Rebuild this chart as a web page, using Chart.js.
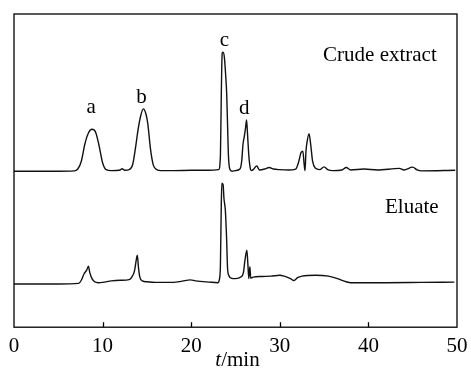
<!DOCTYPE html>
<html>
<head>
<meta charset="utf-8">
<script src="https://cdn.jsdelivr.net/npm/chart.js@4.4.0/dist/chart.umd.min.js"></script>
<style>
  body { margin: 0; background: #fff; }
  #wrap { width: 471px; height: 369px; }
</style>
</head>
<body>
<div id="wrap"><canvas id="chromChart" width="471" height="369"></canvas></div>
<script>
// ================== DATA ==================
const xTicks = [0, 10, 20, 30, 40, 50];

const crudeT = [0, 5, 6.8, 7.2, 7.6, 8.0, 8.4, 8.8, 9.2, 9.6, 10.0, 10.4, 11, 12, 12.2, 12.5, 13.0, 13.4, 13.7, 14.0, 14.3, 14.6, 14.9, 15.1, 15.4, 15.7, 16.0, 16.5, 18, 20, 22,
  23.1, 23.3, 23.4, 23.5, 23.6, 23.75, 23.9, 24.0, 24.1, 24.2, 24.35, 24.6, 25.0, 25.5, 25.7, 25.85, 26.0, 26.15, 26.25, 26.35, 26.5, 26.65, 26.8, 27.0, 27.4, 27.7,
  28.3, 28.8, 29.3, 30, 31, 31.8, 32.1, 32.4, 32.6, 32.75, 32.85, 32.95, 33.1, 33.3, 33.5, 33.7, 34.0, 34.5, 35.0, 35.4, 36, 37.0, 37.5, 38, 39.5, 41, 43.5, 44, 45, 45.5, 46, 49.8];
const crudeY = [49.8, 49.8, 49.9, 50.5, 53, 58.5, 62, 63.2, 62.3, 58, 52.5, 50.3, 50, 50.2, 50.6, 50.1, 50.3, 52, 57, 63, 67.5, 69.7, 68, 65, 57, 52, 50.5, 50, 50, 50.1, 50.1,
  50.3, 55, 75, 87.5, 87.8, 86, 80, 75, 65, 55, 50.5, 49.8, 50, 50.5, 53, 58.5, 61, 64, 66.2, 62, 55, 51, 50, 50.3, 51.5, 50.2,
  50.5, 51, 50.5, 50.3, 50.2, 50.5, 52.5, 55.8, 56.2, 52, 50, 56, 59.5, 61.8, 58, 53, 50.8, 50.3, 51.2, 50.3, 50, 50.2, 51.0, 50.2, 50.5, 50.2, 50.7, 50.2, 51.1, 50.2, 49.9, 50.1];

const eluateT = [0, 5, 7.3, 7.6, 7.9, 8.2, 8.4, 8.55, 8.8, 9.1, 9.5, 10, 11, 12, 13, 13.3, 13.6, 13.8, 13.92, 14.05, 14.2, 14.5, 15, 16, 18, 19, 19.9, 20.5, 22,
  23.0, 23.2, 23.3, 23.4, 23.46, 23.6, 23.7, 23.85, 24.0, 24.1, 24.25, 24.5, 25.0, 25.6, 25.9, 26.05, 26.28, 26.4, 26.5, 26.62, 26.72,
  27, 28, 29, 30, 30.5, 31.2, 31.6, 32.0, 32.5, 34, 35.5, 36.5, 37.5, 38, 42, 46, 49.7];
const eluateY = [13.8, 13.8, 14.0, 15, 17, 18.2, 19.5, 17.5, 15.5, 14.5, 14.2, 14.3, 14.8, 15.0, 15.2, 16, 18, 21.5, 23, 19, 16, 14.8, 14.5, 14.3, 14.3, 14.7, 15.1, 14.8, 14.4,
  14.2, 15.5, 20, 40, 46, 45.5, 41, 37.5, 28, 19, 16.5, 15.7, 15.5, 16, 17.5, 21, 24.6, 20, 15.5, 19.3, 15.7,
  16, 16.2, 16.3, 16.6, 16.3, 15.5, 14.9, 15.8, 16.3, 16.6, 16.3, 15.5, 14.5, 14.2, 14.2, 14.3, 14.4];

// peak letters and trace names: [text, t, level]
const peakLabels = [['a', 8.7, 70.1], ['b', 14.4, 73.2], ['c', 23.76, 91.7], ['d', 26.0, 69.7]];
const traceLabels = [['Crude extract', 41.3, 86.9], ['Eluate', 44.9, 38.2]];

const toPoints = (xs, ys) => xs.map((x, i) => ({ x: x, y: ys[i] }));

// ================== FRAME + TEXT PLUGIN ==================
const serif = '"Liberation Serif", "Times New Roman", serif';

const framePlugin = {
  id: 'frame',
  afterDraw(chart) {
    const { ctx, chartArea: a, scales } = chart;
    const xs = scales.x, ys = scales.y;
    ctx.save();
    ctx.strokeStyle = '#000';
    ctx.lineWidth = 1.3;
    ctx.strokeRect(a.left, a.top, a.right - a.left, a.bottom - a.top);

    // inner tick marks along the bottom
    xTicks.slice(1, -1).forEach(v => {
      const px = Math.round(xs.getPixelForValue(v)) + 0.5;
      ctx.beginPath();
      ctx.moveTo(px, a.bottom);
      ctx.lineTo(px, a.bottom - 5);
      ctx.stroke();
    });

    ctx.fillStyle = '#000';
    ctx.textAlign = 'center';
    ctx.textBaseline = 'middle';
    ctx.font = '21px ' + serif;
    peakLabels.forEach(([txt, t, v]) => ctx.fillText(txt, xs.getPixelForValue(t), ys.getPixelForValue(v)));
    traceLabels.forEach(([txt, t, v]) => ctx.fillText(txt, xs.getPixelForValue(t), ys.getPixelForValue(v)));

    // axis title: italic t + "/min"
    ctx.textBaseline = 'alphabetic';
    ctx.textAlign = 'left';
    ctx.font = 'italic 21px ' + serif;
    const wT = ctx.measureText('t').width;
    ctx.font = '21px ' + serif;
    const wRest = ctx.measureText('/min').width;
    const cx = (a.left + a.right) / 2 + 2;
    const x0 = cx - (wT + wRest) / 2;
    ctx.font = 'italic 21px ' + serif;
    ctx.fillText('t', x0, 366);
    ctx.font = '21px ' + serif;
    ctx.fillText('/min', x0 + wT, 366);
    ctx.restore();
  }
};

// ================== CHART ==================
const lineStyle = { borderColor: '#111', borderWidth: 1.4, pointRadius: 0, fill: false, cubicInterpolationMode: 'monotone' };

new Chart(document.getElementById('chromChart'), {
  type: 'line',
  plugins: [framePlugin],
  data: {
    datasets: [
      Object.assign({ label: 'Crude extract', data: toPoints(crudeT, crudeY) }, lineStyle),
      Object.assign({ label: 'Eluate', data: toPoints(eluateT, eluateY) }, lineStyle)
    ]
  },
  options: {
    responsive: false,
    animation: false,
    devicePixelRatio: 1,
    layout: { padding: { left: 14, right: 14, top: 14, bottom: 4 } },
    plugins: { legend: { display: false }, tooltip: { enabled: false } },
    scales: {
      x: {
        type: 'linear', min: 0, max: 50,
        afterBuildTicks: s => { s.ticks = xTicks.map(v => ({ value: v })); },
        ticks: { color: '#000', padding: 0, font: { family: serif, size: 21, lineHeight: 1.8 }, maxRotation: 0 },
        grid: { display: false, drawTicks: false },
        border: { display: false }
      },
      y: { min: 0, max: 100, display: false }
    }
  }
});
</script>
</body>
</html>
